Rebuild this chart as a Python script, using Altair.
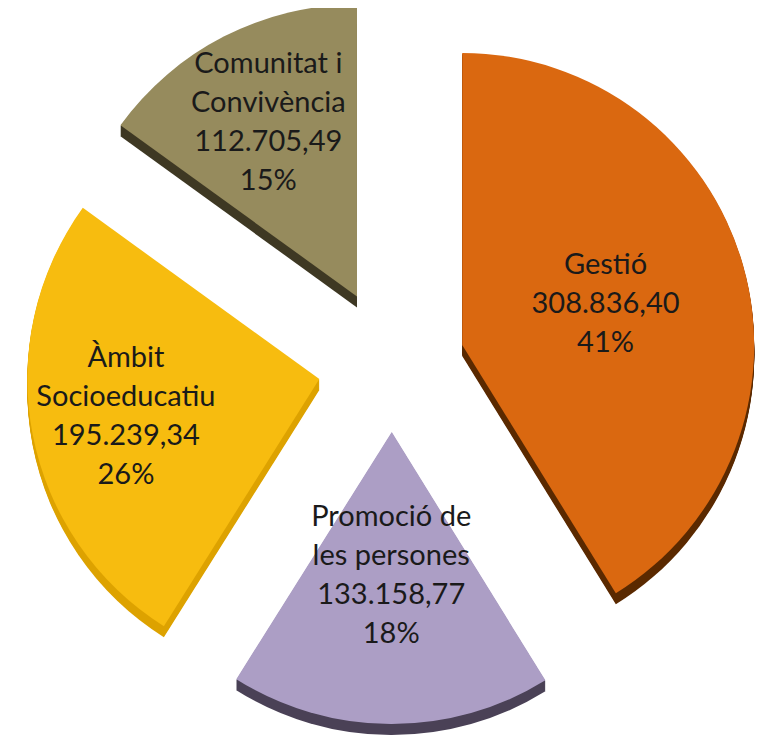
import altair as alt
import pandas as pd

# ---- data ----
categories = ["Gestió", "Promoció de les persones", "Àmbit Socioeducatiu", "Comunitat i Convivència"]
label_names = ["Gestió", "Promoció de\nles persones", "Àmbit\nSocioeducatiu", "Comunitat i\nConvivència"]
values = [308836.40, 133158.77, 195239.34, 112705.49]
percent_labels = ["41%", "18%", "26%", "15%"]
value_labels = ["308.836,40", "133.158,77", "195.239,34", "112.705,49"]

# ---- style / layout ----
top_colors = ["#DA6810", "#AC9EC5", "#F7BC0F", "#968B5D"]
side_colors = ["#5A2900", "#4A4156", "#DDA200", "#3E3823"]
explode = [73, 67, 74, 77]
label_radius = [149, 144, 197, 195]
CX, CY, R, DEPTH, LH = 384, 357, 292, 11, 39

df = pd.DataFrame({
    "idx": list(range(len(categories))),
    "cat": categories,
    "value": values,
    "label": [f"{n}\n{v}\n{p}" for n, v, p in zip(label_names, value_labels, percent_labels)],
    "lr": label_radius,
    "ex": explode,
})

base = alt.Chart(df).transform_joinaggregate(
    total="sum(value)"
).transform_window(
    cum="sum(value)", sort=[alt.SortField("idx")], frame=[None, 0]
).transform_calculate(
    start="2*PI*(datum.cum - datum.value)/datum.total",
    end="2*PI*datum.cum/datum.total",
).transform_calculate(
    mid="(datum.start + datum.end)/2",
    nlines="length(split(datum.label, '\\n'))",
).transform_calculate(
    cx=f"{CX} + datum.ex*sin(datum.mid)",
    cy=f"{CY} - datum.ex*cos(datum.mid)",
).transform_calculate(
    lx="datum.cx + datum.lr*sin(datum.mid)",
    ly=f"datum.cy - datum.lr*cos(datum.mid) - (datum.nlines - 1)*{LH}/2",
)

enc = dict(
    theta=alt.Theta("start:Q", scale=None),
    theta2="end:Q",
    x=alt.X("cx:Q", scale=None),
    y=alt.Y("cy:Q", scale=None),
)

layers = []
for k in range(1, DEPTH + 1):
    layers.append(
        base.mark_arc(outerRadius=R, yOffset=k).encode(
            color=alt.Color("cat:N", scale=alt.Scale(domain=categories, range=side_colors), legend=None),
            **enc,
        )
    )

top = base.mark_arc(outerRadius=R).encode(
    color=alt.Color("cat:N", scale=alt.Scale(domain=categories, range=top_colors), legend=None),
    **enc,
)
layers.append(top)

text = base.mark_text(
    font="Lato", fontSize=29, lineBreak="\n", lineHeight=LH,
    color="#1a1a1a", align="center", baseline="middle",
).encode(
    x=alt.X("lx:Q", scale=None),
    y=alt.Y("ly:Q", scale=None),
    text="label:N",
)
layers.append(text)

chart = alt.layer(*layers).resolve_scale(color="independent").properties(
    width=747, height=727, autosize=alt.AutoSizeParams(type="none"), padding=0
).configure_view(stroke=None)

chart.save("out.html", embed_options={"renderer": "svg", "actions": False})
